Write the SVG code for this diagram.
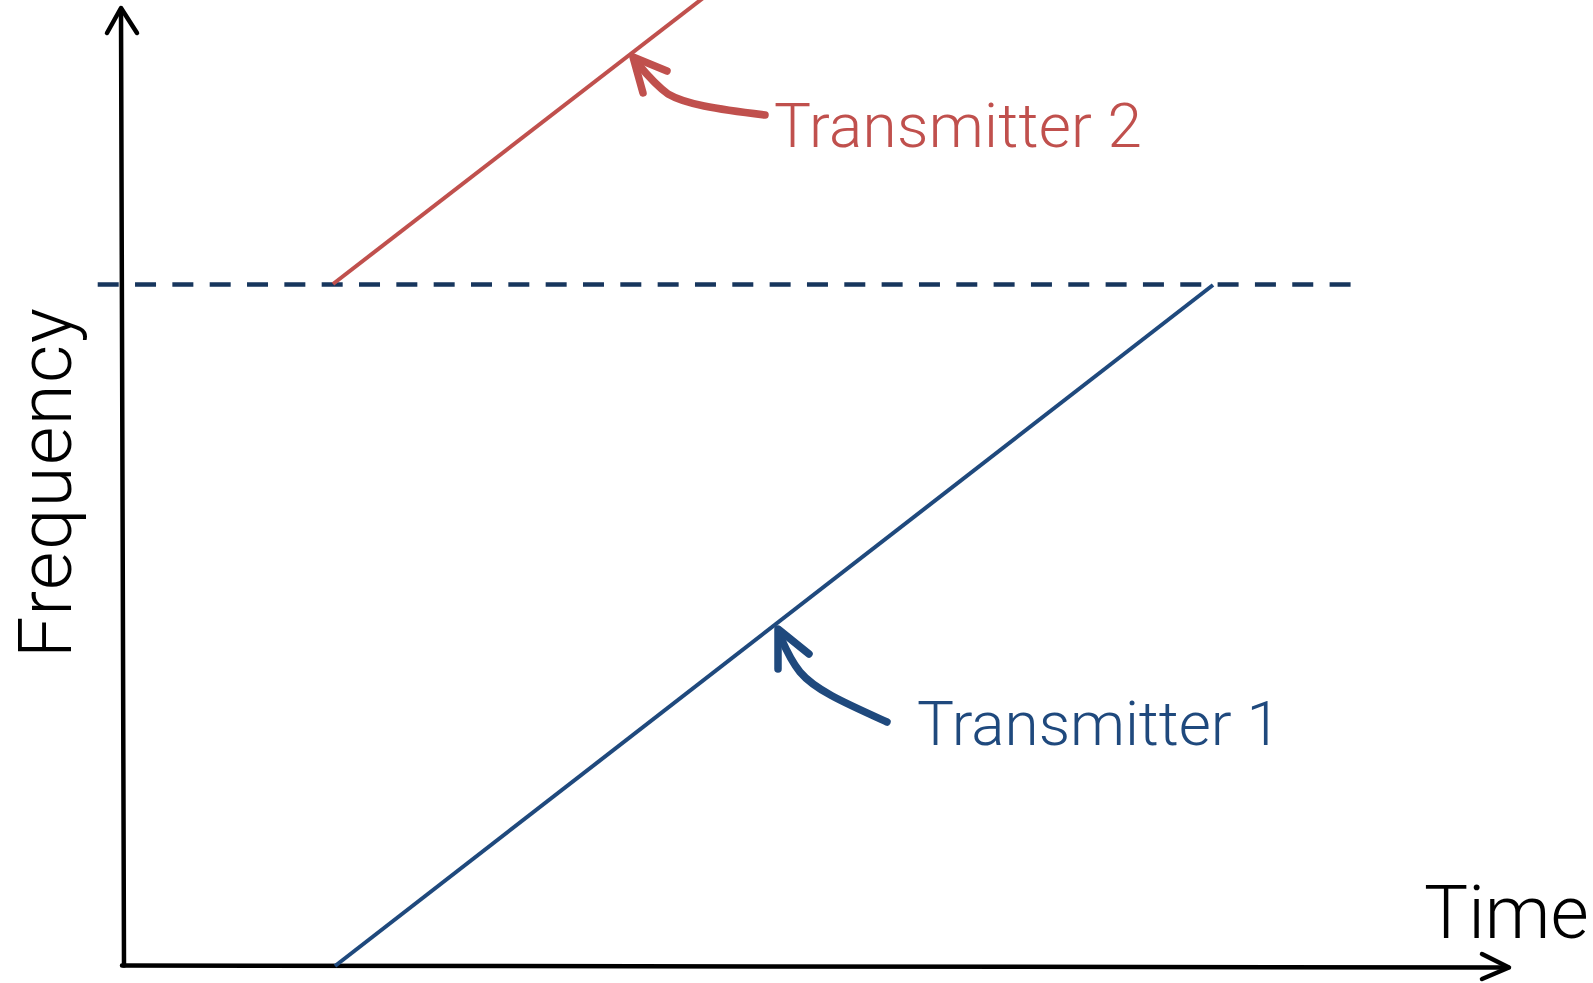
<svg xmlns="http://www.w3.org/2000/svg" width="1593" height="983" viewBox="0 0 1593 983">
<style>
.axis{fill:none;stroke:#000;stroke-width:4.5;stroke-linecap:round;stroke-linejoin:round}
.lbl{font-family:Roboto,"Liberation Sans",sans-serif;font-weight:300}
.red{stroke:#C0504D}
.blue{stroke:#1F497D}
.arr{fill:none;stroke-width:7.5;stroke-linecap:round;stroke-linejoin:round}
</style>
<rect width="1593" height="983" fill="#fff"/>
<g id="axes">
<line class="axis" x1="121" y1="9" x2="124" y2="965.5"/>
<polyline class="axis" points="107,33 121,8 137,33"/>
<line class="axis" x1="122" y1="965.5" x2="1508" y2="967.5"/>
<polyline class="axis" points="1482,954 1509,967.5 1482,979"/>
</g>
<g id="threshold">
<line x1="97.7" y1="284.5" x2="1351" y2="284.5" stroke="#17365D" stroke-width="4.5" stroke-dasharray="21 16.33"/>
</g>
<g id="connectors">
<line x1="333" y1="284" x2="707" y2="-5" stroke="#C0504D" stroke-width="4"/>
<line x1="335" y1="966" x2="1213" y2="285" stroke="#1F497D" stroke-width="4"/>
<path class="arr red" d="M765,115 C715,109 685,104 668,94 C657,86 648,76 638,64"/>
<polyline class="arr red" points="643,93 633,57 667,71"/>
<path class="arr blue" d="M887,722 C845,703 815,690 800,672 C792,662 787,652 781,638"/>
<polyline class="arr blue" points="778,669 778,629 809,654"/>
</g>
<g id="label-time"><text class="lbl" x="1424" y="938" font-size="74" fill="#000">Time</text></g>
<g id="label-frequency"><text class="lbl" transform="translate(71,658) rotate(-90)" font-size="74" fill="#000" textLength="350">Frequency</text></g>
<g id="label-t2"><text class="lbl" x="774" y="147" font-size="62" fill="#C0504D" textLength="368">Transmitter 2</text></g>
<g id="label-t1"><text class="lbl" x="917" y="745" font-size="62" fill="#1F497D" textLength="364">Transmitter 1</text></g>
</svg>
